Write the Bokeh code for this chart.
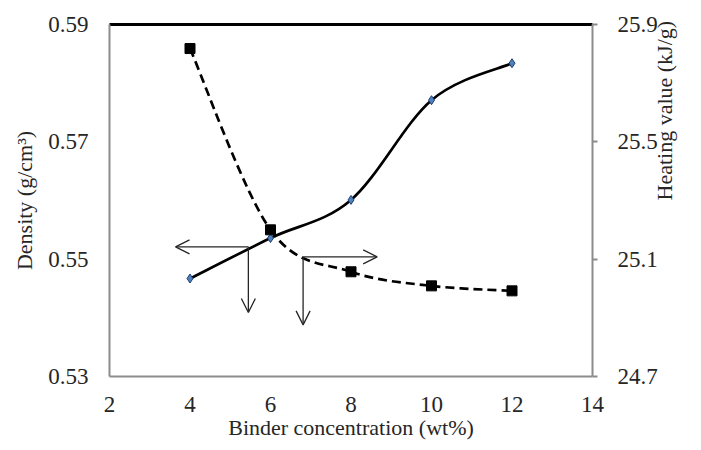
import math
from bokeh.plotting import figure
from bokeh.models import Range1d, LinearAxis, FixedTicker, Arrow, OpenHead, ColumnDataSource
from bokeh.embed import file_html
from bokeh.resources import INLINE

# ---- data ----
binder = [4, 6, 8, 10, 12]
density = [0.5467, 0.5536, 0.5601, 0.5771, 0.5834]
heating = [25.818, 25.200, 25.057, 25.009, 24.992]
x_ticks = [2, 4, 6, 8, 10, 12, 14]
density_ticks = [0.53, 0.55, 0.57, 0.59]
heating_ticks = [24.7, 25.1, 25.5, 25.9]
# arrow annotations (x0, y0, x1, y1) in data units of the density axis
arrows = [
    (5.45, 0.5521, 3.64, 0.5521),
    (5.45, 0.5521, 5.45, 0.5409),
    (6.81, 0.5504, 8.65, 0.5504),
    (6.81, 0.5504, 6.81, 0.5388),
]

FONT = "Liberation Serif"
GRAY = "#8c8c8c"
TXT = "#262626"


def smooth_segments(xs, ys):
    """Excel-like smoothed line: cubic Bezier control points per segment."""
    n = len(xs)
    seg = dict(x0=[], y0=[], x1=[], y1=[], cx0=[], cy0=[], cx1=[], cy1=[])
    for i in range(n - 1):
        xm, ym = (xs[i - 1], ys[i - 1]) if i > 0 else (xs[i], ys[i])
        xp, yp = (xs[i + 2], ys[i + 2]) if i + 2 < n else (xs[i + 1], ys[i + 1])
        seg["x0"].append(xs[i]); seg["y0"].append(ys[i])
        seg["x1"].append(xs[i + 1]); seg["y1"].append(ys[i + 1])
        seg["cx0"].append(xs[i] + (xs[i + 1] - xm) / 6)
        seg["cy0"].append(ys[i] + (ys[i + 1] - ym) / 6)
        seg["cx1"].append(xs[i + 1] - (xp - xs[i]) / 6)
        seg["cy1"].append(ys[i + 1] - (yp - ys[i]) / 6)
    return ColumnDataSource(seg)


p = figure(width=693, height=442, output_backend="svg", toolbar_location=None,
           x_range=Range1d(2, 14), y_range=Range1d(0.53, 0.59),
           min_border_left=109, min_border_right=101, min_border_top=24, min_border_bottom=65)
p.extra_y_ranges = {"hv": Range1d(24.7, 25.9)}
p.grid.visible = False
p.outline_line_color = None
p.background_fill_color = "white"


def style_axis(ax, ticks):
    ax.ticker = FixedTicker(ticks=ticks)
    ax.axis_line_color = GRAY
    ax.axis_line_width = 2
    ax.major_tick_line_color = None
    ax.minor_tick_line_color = None
    ax.major_tick_out = 0
    ax.major_tick_in = 0
    ax.minor_tick_out = 0
    ax.minor_tick_in = 0
    ax.major_label_text_font = FONT
    ax.major_label_text_font_size = "23px"
    ax.major_label_text_color = TXT
    ax.axis_label_text_font = FONT
    ax.axis_label_text_font_size = "22px"
    ax.axis_label_text_font_style = "normal"
    ax.axis_label_text_color = TXT


xa = p.xaxis[0]
style_axis(xa, x_ticks)
xa.axis_label = "Binder concentration (wt%)"
xa.major_label_standoff = 20
xa.axis_label_standoff = 0

ya = p.yaxis[0]
style_axis(ya, density_ticks)
ya.axis_label = "Density (g/cm³)"
ya.major_label_standoff = 21
ya.axis_label_standoff = 8
ya.major_label_overrides = {0.53: "0.53", 0.55: "0.55", 0.57: "0.57", 0.59: "0.59"}

ra = LinearAxis(y_range_name="hv")
style_axis(ra, heating_ticks)
ra.major_tick_line_color = GRAY
ra.major_tick_line_width = 2
ra.major_tick_out = 5
ra.major_label_standoff = 20
ra.axis_label = "Heating value (kJ/g)"
ra.axis_label_standoff = 4
ra.axis_label_orientation = math.pi / 2
ra.major_label_overrides = {24.7: "24.7", 25.1: "25.1", 25.5: "25.5", 25.9: "25.9"}
p.add_layout(ra, "right")

top = LinearAxis(ticker=FixedTicker(ticks=[]), major_label_text_font_size="0px")
top.axis_line_color = "black"
top.axis_line_width = 3
top.major_tick_line_color = None
top.minor_tick_line_color = None
top.major_tick_out = 0
top.major_label_standoff = 0
p.add_layout(top, "above")

# smoothed curves
d_src = smooth_segments(binder, density)
p.bezier(x0="x0", y0="y0", x1="x1", y1="y1", cx0="cx0", cy0="cy0", cx1="cx1", cy1="cy1",
         source=d_src, line_color="black", line_width=2.7)
h_src = smooth_segments(binder, heating)
p.bezier(x0="x0", y0="y0", x1="x1", y1="y1", cx0="cx0", cy0="cy0", cx1="cx1", cy1="cy1",
         source=h_src, line_color="black", line_width=2.7, line_dash="9 5", y_range_name="hv")

# markers
p.scatter(binder, density, marker="diamond", size=9, fill_color="#4f81bd", line_color="#1f3f6f",
          line_width=1)
p.scatter(binder, heating, marker="square", size=10, fill_color="black", line_color="black",
          y_range_name="hv")

# arrows
for (x0, y0, x1, y1) in arrows:
    p.add_layout(Arrow(end=OpenHead(size=14, line_width=1.3, line_color=TXT),
                       x_start=x0, y_start=y0, x_end=x1, y_end=y1,
                       line_width=1.3, line_color=TXT))

open("out.html", "w").write(file_html(p, INLINE))
